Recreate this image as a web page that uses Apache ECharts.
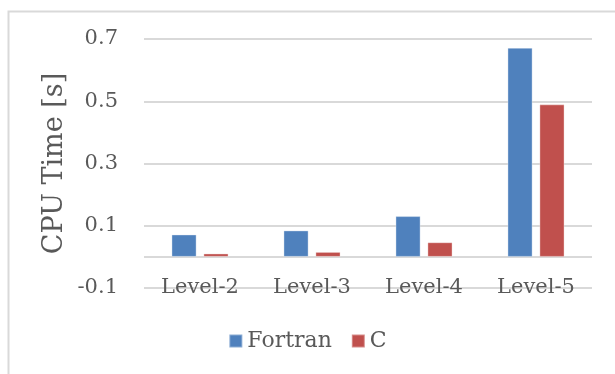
<!DOCTYPE html>
<html>
<head>
<meta charset="utf-8">
<script src="https://cdn.jsdelivr.net/npm/echarts@6/dist/echarts.min.js"></script>
<style>
  html, body { margin: 0; padding: 0; background: #fff; }
  #chart { width: 615px; height: 374px; }
</style>
</head>
<body>
<div id="chart"></div>
<script>
// Benchmark categories and CPU times (seconds)
const levels = ['Level-2', 'Level-3', 'Level-4', 'Level-5'];
const fortranTimes = [0.072, 0.085, 0.131, 0.672];
const cTimes = [0.011, 0.016, 0.047, 0.49];
const seriesNames = ['Fortran', 'C'];
const axisTitle = 'CPU Time [s]';

const FONT = 'DejaVu Serif';
const TEXT = '#595959';
const GRID = '#d9d9d9';
const NONE = 'rgba(0,0,0,0)';

const chart = echarts.init(document.getElementById('chart'), null, { renderer: 'canvas' });

chart.setOption({
  animation: false,
  backgroundColor: '#ffffff',
  color: ['#4f81bd', '#c0504d'],
  graphic: [{
    type: 'rect',
    left: 6, top: 9,
    shape: { width: 700, height: 500 },
    style: { fill: 'none', stroke: GRID, lineWidth: 2 },
    silent: true,
    z: -10
  }],
  grid: { left: 144, right: 23, top: 39, bottom: 86, containLabel: false },
  legend: {
    data: seriesNames,
    bottom: 17,
    left: 'center',
    icon: 'rect',
    itemWidth: 13,
    itemHeight: 13,
    itemGap: 19,
    textStyle: { fontFamily: FONT, fontSize: 22, color: TEXT }
  },
  xAxis: {
    type: 'category',
    data: levels,
    position: 'bottom',
    axisTick: { show: false },
    axisLine: { show: false, onZero: false },
    // category names sit across the bottom grid line
    axisLabel: { fontFamily: FONT, fontSize: 21, color: TEXT, margin: 0, verticalAlign: 'middle' }
  },
  yAxis: {
    type: 'value',
    min: -0.1,
    max: 0.7,
    interval: 0.1,
    name: axisTitle,
    nameLocation: 'middle',
    nameGap: 76,
    nameMoveOverlap: false,
    nameTextStyle: { fontFamily: FONT, fontSize: 27, color: TEXT },
    axisLine: { show: false },
    axisTick: { show: false },
    axisLabel: {
      fontFamily: FONT, fontSize: 21, color: TEXT, margin: 26,
      formatter: function (v) {
        const k = Math.round(v * 10);
        return Math.abs(k) % 2 === 1 ? (k / 10).toFixed(1) : '';
      }
    },
    splitLine: {
      show: true,
      // lines at -0.1, 0, 0.1, 0.3, 0.5, 0.7
      lineStyle: { color: [GRID, GRID, GRID, NONE, GRID, NONE, GRID, NONE, GRID], width: 2 }
    }
  },
  series: [
    {
      name: seriesNames[0],
      type: 'bar',
      data: fortranTimes,
      barGap: '27%',
      barCategoryGap: '49%',
      itemStyle: { borderColor: 'rgba(255,255,255,0.35)', borderWidth: 1 }
    },
    {
      name: seriesNames[1],
      type: 'bar',
      data: cTimes,
      barGap: '27%',
      barCategoryGap: '49%',
      itemStyle: { borderColor: 'rgba(255,255,255,0.35)', borderWidth: 1 }
    }
  ]
});
</script>
</body>
</html>
